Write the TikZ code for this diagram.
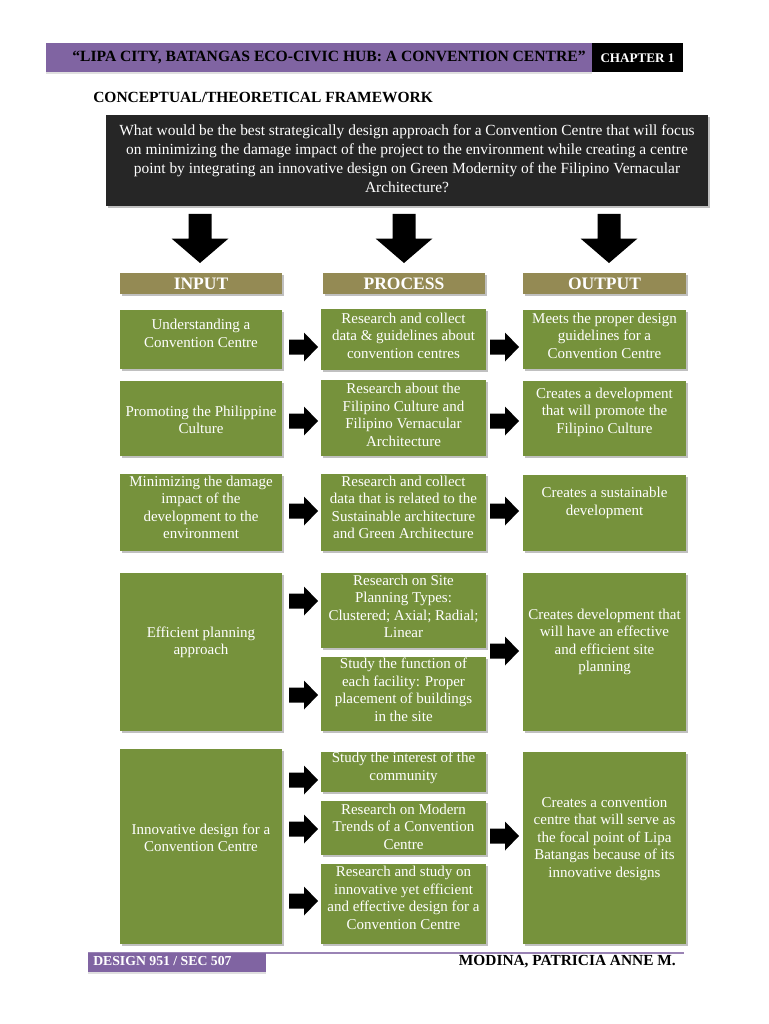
\documentclass[tikz,border=0pt]{standalone}
\usepackage{fontspec}
\setmainfont{Liberation Serif}
\usetikzlibrary{fit,shadows}
\definecolor{grn}{HTML}{76923C}
\definecolor{khaki}{HTML}{948A54}
\definecolor{purp}{HTML}{8064A2}
\definecolor{qbg}{HTML}{262626}
\tikzset{
  shd/.style={drop shadow={shadow xshift=1.2pt,shadow yshift=-1.4pt,opacity=0.35,fill=black!70}},
  gbox/.style={fill=grn,draw=none,inner sep=0pt,shd},
  hbox/.style={fill=khaki,draw=none,inner sep=0pt,shd},
  txt/.style={text=white,align=center,inner sep=0pt,font=\fontsize{12}{14}\selectfont},
  htxt/.style={text=white,inner sep=0pt,font=\fontsize{14}{16}\selectfont\bfseries},
  rarr/.pic={\fill[black] (-14.5,-7.5) -- (0.5,-7.5) -- (0.5,-14.5) -- (14.5,0) -- (0.5,14.5) -- (0.5,7.5) -- (-14.5,7.5) -- cycle;},
  darr/.pic={\fill[black] (-11.5,-24.5) -- (-11.5,0) -- (-28.5,0) -- (0,24.5) -- (28.5,0) -- (11.5,0) -- (11.5,-24.5) -- cycle;}
}
\begin{document}
\begin{tikzpicture}[x=0.8pt,y=-0.8pt]
\path[use as bounding box,fill=white] (0,0) rectangle (768,1024);

% header bar
\node[fill=purp,inner sep=0pt,drop shadow={shadow xshift=0pt,shadow yshift=-1.5pt,opacity=0.25},fit={(46,43) (592,72)}] (hdr) {};
\node[fill=black,inner sep=0pt,fit={(592,43) (683,72)}] (chap) {};
\node[inner sep=0pt,font=\fontsize{12.5}{14}\selectfont\bfseries] (hdrt) at (329,58) {“LIPA CITY, BATANGAS ECO-CIVIC HUB: A CONVENTION CENTRE”};
\node[inner sep=0pt,text=white,font=\fontsize{10.5}{12}\selectfont\bfseries] (chapt) at (637.5,58) {CHAPTER 1};

\node[anchor=west,inner sep=0pt,font=\fontsize{12.4}{14}\selectfont\bfseries] (ctf) at (93,97) {CONCEPTUAL/THEORETICAL FRAMEWORK};

% question
\node[fill=qbg,inner sep=0pt,shd,fit={(106,115) (708,206)}] (q) {};
\node[text=white,align=center,inner sep=0pt,font=\fontsize{12.35}{15.2}\selectfont] (qt) at (407,159) {What would be the best strategically design approach for a Convention Centre that will focus\\on minimizing the damage impact of the project to the environment while creating a centre\\point by integrating an innovative design on Green Modernity of the Filipino Vernacular\\Architecture?};

% down arrows
\pic (d1) at (200,238.5) {darr};
\pic (d2) at (404,238.5) {darr};
\pic (d3) at (609,238.5) {darr};

% headers
\node[hbox,fit={(120,273) (282,294)}] (hin) {};
\node[hbox,fit={(323,273) (485,294)}] (hpr) {};
\node[hbox,fit={(523,273) (686,294)}] (hout) {};
\node[htxt] at (hin.center) {INPUT};
\node[htxt] at (hpr.center) {PROCESS};
\node[htxt] at (hout.center) {OUTPUT};

% row 1
\node[gbox,fit={(120,310) (282,369)}] (i1) {};
\node[gbox,fit={(321,309) (486,370)}] (p1) {};
\node[gbox,fit={(523,310) (686,369)}] (o1) {};
\node[txt] (i1t) at (201,333.5) {Understanding a\\Convention Centre};
\node[txt] (p1t) at (403.5,335.5) {Research and collect\\data \& guidelines about\\convention centres};
\node[txt] (o1t) at (604.5,335.5) {Meets the proper design\\guidelines for a\\Convention Centre};
\pic (a11) at (303.5,347) {rarr};
\pic (a12) at (504.5,347) {rarr};

% row 2
\node[gbox,fit={(120,381) (282,456)}] (i2) {};
\node[gbox,fit={(321,380) (486,456)}] (p2) {};
\node[gbox,fit={(523,381) (686,456)}] (o2) {};
\node[txt] (i2t) at (201,420) {Promoting the Philippine\\Culture};
\node[txt] (p2t) at (403.5,415) {Research about the\\Filipino Culture and\\Filipino Vernacular\\Architecture};
\node[txt] (o2t) at (604.5,412) {Creates a development\\that will promote the\\Filipino Culture};
\pic (a21) at (303.5,421) {rarr};
\pic (a22) at (504.5,421) {rarr};

% row 3
\node[gbox,fit={(120,474) (282,551)}] (i3) {};
\node[gbox,fit={(321,474) (486,551)}] (p3) {};
\node[gbox,fit={(523,475) (686,551)}] (o3) {};
\node[txt] (i3t) at (201,507.5) {Minimizing the damage\\impact of the\\development to the\\environment};
\node[txt] (p3t) at (403.5,507.5) {Research and collect\\data that is related to the\\Sustainable architecture\\and Green Architecture};
\node[txt] (o3t) at (604.5,503) {Creates a sustainable\\development};
\pic (a31) at (303.5,511) {rarr};
\pic (a32) at (504.5,511) {rarr};

% row 4
\node[gbox,fit={(120,573) (282,731)}] (i4) {};
\node[gbox,fit={(321,573) (486,648)}] (p4a) {};
\node[gbox,fit={(321,657) (486,731)}] (p4b) {};
\node[gbox,fit={(523,573) (686,731)}] (o4) {};
\node[txt] (i4t) at (201,642.5) {Efficient planning\\approach};
\node[txt] (p4at) at (403.5,606.5) {Research on Site\\Planning Types:\\Clustered; Axial; Radial;\\Linear};
\node[txt] (p4bt) at (403.5,690) {Study the function of\\each facility: Proper\\placement of buildings\\in the site};
\node[txt] (o4t) at (604.5,642) {Creates development that\\will have an effective\\and efficient site\\planning};
\pic (a41) at (303.5,601) {rarr};
\pic (a42) at (303.5,695) {rarr};
\pic (a43) at (504.5,651) {rarr};

% row 5
\node[gbox,fit={(120,749) (282,944)}] (i5) {};
\node[gbox,fit={(321,752) (486,792)}] (p5a) {};
\node[gbox,fit={(321,801) (486,855)}] (p5b) {};
\node[gbox,fit={(321,864) (486,944)}] (p5c) {};
\node[gbox,fit={(523,752) (686,944)}] (o5) {};
\node[txt] (i5t) at (201,838) {Innovative design for a\\Convention Centre};
\node[txt] (p5at) at (403.5,768) {Study the interest of the\\community};
\node[txt] (p5bt) at (403.5,826.5) {Research on Modern\\Trends of a Convention\\Centre};
\node[txt] (p5ct) at (403.5,898) {Research and study on\\innovative yet efficient\\and effective design for a\\Convention Centre};
\node[txt] (o5t) at (604.5,839) {Creates a convention\\centre that will serve as\\the focal point of Lipa\\Batangas because of its\\innovative designs};
\pic (a51) at (303.5,780) {rarr};
\pic (a52) at (303.5,829) {rarr};
\pic (a53) at (303.5,901) {rarr};
\pic (a54) at (504.5,836) {rarr};

% footer
\coordinate (fl) at (88,953);
\coordinate (fr) at (684,953);
\draw[purp!80,line width=0.9pt] (fl) -- (fr);
\node[fill=purp,inner sep=0pt,drop shadow={shadow xshift=0pt,shadow yshift=-1.5pt,opacity=0.25},fit={(88,953) (266,972)}] (fbox) {};
\node[anchor=west,text=white,inner sep=0pt,font=\fontsize{11}{13}\selectfont\bfseries] (ft1) at (93,961) {DESIGN 951 / SEC 507};
\node[anchor=east,inner sep=0pt,font=\fontsize{12.3}{14}\selectfont\bfseries] (ft2) at (676,962) {MODINA, PATRICIA ANNE M.};
\end{tikzpicture}
\end{document}
